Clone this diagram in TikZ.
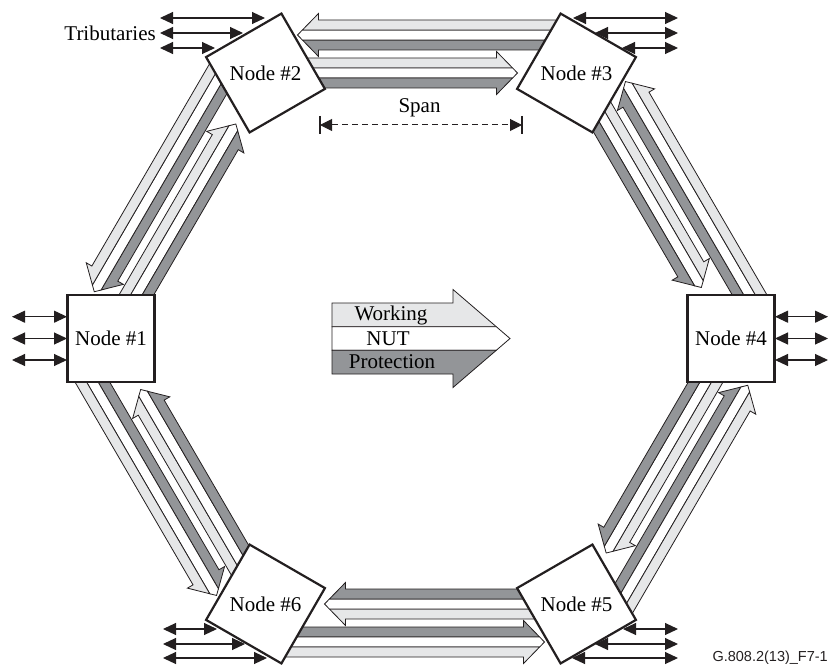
\documentclass[tikz,border=0pt]{standalone}
\usepackage{fontspec}
\usepackage{graphicx}
\setmainfont{Liberation Serif}
\newfontfamily\labelsans{Liberation Sans}
\usetikzlibrary{arrows.meta,calc}

\definecolor{ink}{HTML}{231F20}
\definecolor{wkgray}{HTML}{E6E7E8}
\definecolor{prgray}{HTML}{939598}

\tikzset{
  band/.style={draw=ink, line width=0.8pt, line join=miter},
  nodebox/.style={draw=ink, line width=2.2pt, fill=white, minimum width=87pt,
    minimum height=87pt, inner sep=0pt},
  trib/.style={draw=ink, line width=1.1pt,
    {Triangle[length=13pt,width=12pt]}-{Triangle[length=13pt,width=12pt]}},
  spandim/.style={draw=ink, line width=1pt, dash pattern=on 6pt off 4pt,
    {Triangle[length=12pt,width=12pt]}-{Triangle[length=12pt,width=12pt]}},
  spanbar/.style={draw=ink, line width=1.2pt},
  legendtext/.style={inner sep=0pt}
}

% Three-band fat arrow: #1 tail point, #2 direction (deg), #3 total length,
% #4 body half-width, #5 head half-width, #6 head length,
% #7 #8 #9 band colours from the left-hand side to the right-hand side
\newcommand\ringarrow[9]{%
  \begin{scope}[shift={#1}, rotate=#2]
    \pgfmathsetmacro\arHeadBase{#3-#6}
    \pgfmathsetmacro\arBandY{#4/3}
    \pgfmathsetmacro\arBandX{#3-#6*\arBandY/#5}
    \filldraw[band, fill=#7] (0,-#4) -- (\arHeadBase,-#4) -- (\arHeadBase,-#5)
      -- (\arBandX,-\arBandY) -- (0,-\arBandY) -- cycle;
    \filldraw[band, fill=#8] (0,-\arBandY) -- (\arBandX,-\arBandY) -- (#3,0)
      -- (\arBandX,\arBandY) -- (0,\arBandY) -- cycle;
    \filldraw[band, fill=#9] (0,\arBandY) -- (\arBandX,\arBandY) -- (\arHeadBase,#5)
      -- (\arHeadBase,#4) -- (0,#4) -- cycle;
  \end{scope}}

% One span of the ring: #1 first node (clockwise), #2 direction to the next node,
% #3 distance between the two node centres
\newcommand\ringspan[3]{%
  \begin{scope}[shift={(#1)}, rotate=#2]
    \pgfmathsetmacro\spInner{#3-59}
    \pgfmathsetmacro\spOuter{#3-45.5}
    \pgfmathsetmacro\spTail{#3-13.5}
    % clockwise arrow on the centre line
    \ringarrow{(0,0)}{0}{\spInner}{15}{21.5}{21}{wkgray}{white}{prgray}
    % counter-clockwise arrow on the outside
    \ringarrow{(\spTail,-38)}{180}{\spOuter}{15}{21.5}{21}{prgray}{white}{wkgray}
  \end{scope}}

\begin{document}
\begin{tikzpicture}[x=1pt, y=-1pt, font=\fontsize{21}{25}\selectfont]
  \useasboundingbox (0,0) rectangle (829,668);

  % node centres
  \coordinate (c1) at (111,338.5);
  \coordinate (c2) at (265.5,73);
  \coordinate (c3) at (576.5,73);
  \coordinate (c4) at (731,338.5);
  \coordinate (c5) at (576.5,604);
  \coordinate (c6) at (265.5,604);

  % spans of the ring
  \ringspan{c1}{59.8}{307.2}
  \ringspan{c2}{0}{311}
  \ringspan{c3}{-59.8}{307.2}
  \ringspan{c4}{-120.2}{307.2}
  \ringspan{c5}{180}{311}
  \ringspan{c6}{120.2}{307.2}

  % legend arrow
  \coordinate (legtail) at (332,338.5);
  \ringarrow{(legtail)}{0}{178}{35.5}{49}{57}{wkgray}{white}{prgray}
  \node[legendtext] (lgw) at (391,315) {Working};
  \node[legendtext] (lgn) at (388,338.5) {NUT};
  \node[legendtext] (lgp) at (392,362) {Protection};

  % span dimension
  \coordinate (spanL) at (320,125);
  \coordinate (spanR) at (522,125);
  \draw[spandim] (spanL) -- (spanR);
  \draw[spanbar] ($(spanL)+(0,-9)$) -- ($(spanL)+(0,9)$);
  \draw[spanbar] ($(spanR)+(0,-9)$) -- ($(spanR)+(0,9)$);
  \node (spanlbl) at (419.5,108) {Span};

  % tributaries
  \foreach \ya/\xa/\xb in {18/160/265, 33/160/243, 48/160/215,
      18/573/678, 33/595/678, 48/622/678,
      316.7/12/67, 338.5/12/67, 360/12/67,
      316.7/775/828, 338.5/775/828, 360/775/828,
      629/163/217, 644/163/245, 658/163/267,
      629/623/678, 644/595/678, 658/572/678}
    \draw[trib] (\xa,\ya) -- (\xb,\ya);
  \node[anchor=east, inner sep=0pt] (tribl) at (156,33) {Tributaries};

  % network elements
  \node[nodebox] (n1) at (c1) {Node \#1};
  \node[nodebox, rotate=30] (n2) at (c2) {\rotatebox{-30}{Node \#2}};
  \node[nodebox, rotate=-30] (n3) at (c3) {\rotatebox{30}{Node \#3}};
  \node[nodebox] (n4) at (c4) {Node \#4};
  \node[nodebox, rotate=30] (n5) at (c5) {\rotatebox{-30}{Node \#5}};
  \node[nodebox, rotate=-30] (n6) at (c6) {\rotatebox{30}{Node \#6}};

  \node[anchor=east, inner sep=0pt, text=ink, font=\labelsans\fontsize{14.5}{17}\selectfont]
    (figid) at (828,658) {G.808.2(13)\_F7-1};
\end{tikzpicture}
\end{document}
